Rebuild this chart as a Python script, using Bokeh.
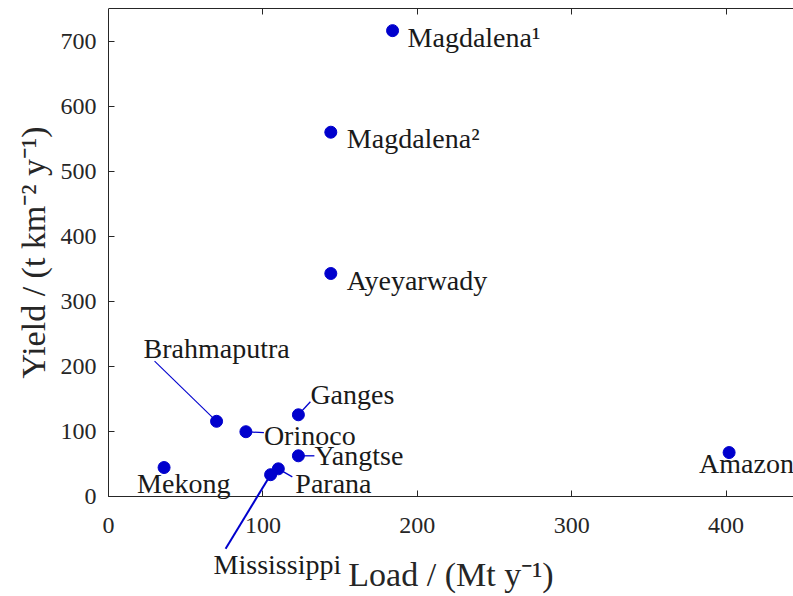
from bokeh.plotting import figure
from bokeh.models import Range1d, LinearAxis, Label, Arrow, ColumnDataSource, FixedTicker
from bokeh.embed import file_html
from bokeh.resources import INLINE

# River sediment data
rivers = ["Magdalena¹", "Magdalena²", "Ayeyarwady", "Brahmaputra", "Ganges", "Orinoco",
          "Yangtse", "Parana", "Mekong", "Mississippi", "Amazon"]
load = [184, 144, 144, 70, 123, 89, 123, 110, 36, 105, 402]        # Mt / y
yield_ = [716, 560, 343, 116, 126, 100, 63, 43, 45, 34, 68]          # t / km2 / y

x_ticks = [0, 100, 200, 300, 400]
y_ticks = [0, 100, 200, 300, 400, 500, 600, 700]

# label placement (pixel offsets from each point) and leader lines
label_dx = [15, 16, 16, -73, 12, 18, 16, 17, -27, -57, -30]
label_dy = [-7, -6, -7, 73, 20, -4, 0, -15, -16, -90, -11]
leader_dx = [None, None, None, -62, 12, 18, 16, 14, None, -45, None]
leader_dy = [None, None, None, 60, 13, -1, 0, -8, None, -74, None]
leader_w = [None, None, None, 1.1, 1.3, 1.3, 1.3, 1.3, None, 2.0, None]

FONT = "Liberation Serif"
BLUE = "#0000cd"
AXIS = "#262626"

X_MAX, Y_MAX = 443.7, 750
PX_X = 685 / X_MAX         # pixels per Mt/y
PX_Y = 0.65                # pixels per t/km2/y
LEFT_PAD, BOTTOM_PAD = 108, 99.5
X_MIN = -LEFT_PAD / PX_X   # room left of the y axis for its labels
Y_MIN = -BOTTOM_PAD / PX_Y # room under the x axis for labels

p = figure(width=793, height=596, output_backend="svg", toolbar_location=None,
           x_range=Range1d(X_MIN, X_MAX), y_range=Range1d(Y_MIN, Y_MAX),
           min_border_left=0, min_border_right=0, min_border_top=8, min_border_bottom=0,
           x_axis_location=None, y_axis_location=None)
p.outline_line_color = None
p.grid.visible = False
p.background_fill_color = "white"

xaxis = LinearAxis(fixed_location=0, bounds=(0, X_MAX), ticker=FixedTicker(ticks=x_ticks),
                   axis_label="Load / (Mt y⁻¹)")
yaxis = LinearAxis(fixed_location=0, bounds=(0, Y_MAX), ticker=FixedTicker(ticks=y_ticks),
                   axis_label="Yield / (t km⁻² y⁻¹)")
p.add_layout(xaxis, "below")
p.add_layout(yaxis, "left")

for ax in (xaxis, yaxis):
    ax.major_tick_in = 6
    ax.major_tick_out = 0
    ax.minor_tick_line_color = None
    ax.axis_line_color = AXIS
    ax.major_tick_line_color = AXIS
    ax.major_label_text_font = FONT
    ax.major_label_text_font_size = "24px"
    ax.major_label_text_color = AXIS
    ax.axis_label_text_font = FONT
    ax.axis_label_text_font_size = "34px"
    ax.axis_label_text_font_style = "normal"
    ax.axis_label_text_color = AXIS

xaxis.major_label_standoff = 21
yaxis.major_label_standoff = 12
xaxis.axis_label_standoff = 20
yaxis.axis_label_standoff = 6

top = LinearAxis(bounds=(0, X_MAX), ticker=FixedTicker(ticks=x_ticks[1:]),
                 major_label_overrides={t: "" for t in x_ticks[1:]},
                 major_tick_in=6, major_tick_out=0, minor_tick_line_color=None,
                 major_label_standoff=0,
                 axis_line_color=AXIS, major_tick_line_color=AXIS)
p.add_layout(top, "above")

for i, name in enumerate(rivers):
    if leader_dx[i] is not None:
        p.add_layout(Arrow(end=None, x_start=load[i], y_start=yield_[i],
                           x_end=load[i] + leader_dx[i] / PX_X,
                           y_end=yield_[i] + leader_dy[i] / PX_Y,
                           line_color=BLUE, line_width=leader_w[i]))

src = ColumnDataSource(dict(x=load, y=yield_))
p.scatter("x", "y", source=src, size=12, fill_color=BLUE, line_color=BLUE)

for i, name in enumerate(rivers):
    p.add_layout(Label(x=load[i], y=yield_[i], x_offset=label_dx[i], y_offset=label_dy[i],
                       text=name, text_font=FONT, text_font_size="28px",
                       text_color="#1a1a1a", text_align="left", text_baseline="alphabetic"))

open("out.html", "w").write(file_html(p, INLINE))
